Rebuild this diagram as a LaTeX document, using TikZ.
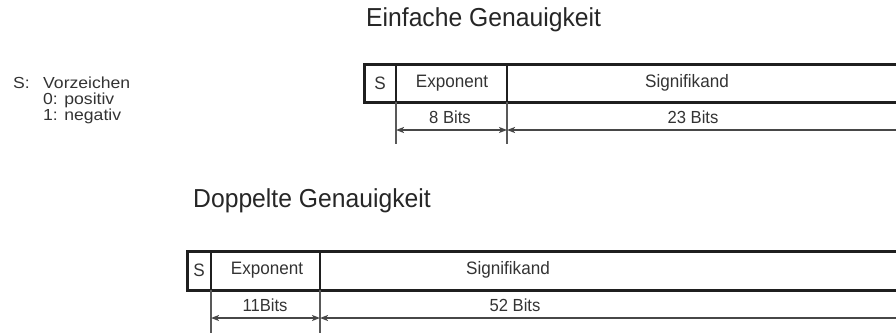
\documentclass[tikz,border=0pt]{standalone}
\usepackage{fontspec}
\setmainfont{Liberation Sans}[FakeStretch=0.95]
\newfontfamily\legendfont{Liberation Sans}[FakeStretch=1.1]
\usetikzlibrary{arrows.meta}
\begin{document}
\begin{tikzpicture}[x=1pt,y=-1pt,
  >={Stealth[length=8pt,width=6pt,inset=2pt]},
  frame/.style={line width=3pt,draw=black!88},
  divider/.style={line width=2.8pt,draw=black!88},
  extline/.style={line width=1.5pt,draw=black!65},
  dimline/.style={line width=1.5pt,draw=black!72},
  title/.style={anchor=base west,inner sep=0pt,font=\fontsize{26}{30}\selectfont,text=black!85},
  field/.style={inner sep=0pt,font=\fontsize{18}{22}\selectfont,text=black!80},
  bits/.style={inner sep=0pt,font=\fontsize{17.5}{22}\selectfont,text=black!80},
  legend/.style={anchor=base west,inner sep=0pt,font=\legendfont\fontsize{16}{17}\selectfont,text=black!80}]
\clip (0,0) rectangle (896,332);

% legend for the sign bit
\node[legend] (sl) at (13,88) {S:};
\node[legend] (sv) at (43,88) {Vorzeichen};
\node[legend] (s0) at (43,104.5) {0: positiv};
\node[legend] (s1) at (43,120.5) {1: negativ};

% ---- single precision ----
\node[title] (t1) at (366,27) {Einfache Genauigkeit};
\coordinate (a0) at (364,64);
\coordinate (a1) at (396,64);
\coordinate (a2) at (507,64);
\draw[frame] (a0) rectangle (905,102);
\draw[divider] (a1) -- (396,102);
\draw[divider] (a2) -- (507,102);
\node[field] (sS) at (380,83) {S};
\node[field] (sE) at (452,83) {Exponent};
\node[field] (sM) at (687,83) {Signifikand};
% extension lines below the fields
\coordinate (e1t) at (396,102); \coordinate (e1b) at (396,144);
\coordinate (e2t) at (507,102); \coordinate (e2b) at (507,144);
\draw[extline] (e1t) -- (e1b);
\draw[extline] (e2t) -- (e2b);
% dimension arrows
\coordinate (d1) at (396,130);
\coordinate (d2) at (507,130);
\coordinate (d3) at (905,130);
\draw[dimline,<->] (d1) -- (d2);
\draw[dimline,<-] (d2) -- (d3);
\node[bits] (sb1) at (450,117) {8 Bits};
\node[bits] (sb2) at (693,117) {23 Bits};

% ---- double precision ----
\node[title] (t2) at (193,207) {Doppelte Genauigkeit};
\coordinate (b0) at (187,251);
\coordinate (b1) at (211,251);
\coordinate (b2) at (320,251);
\draw[frame] (b0) rectangle (905,290);
\draw[divider] (b1) -- (211,290);
\draw[divider] (b2) -- (320,290);
\node[field] (dS) at (199,270) {S};
\node[field] (dE) at (267,270) {Exponent};
\node[field] (dM) at (508,270) {Signifikand};
\coordinate (f1t) at (211,290); \coordinate (f1b) at (211,340);
\coordinate (f2t) at (320,290); \coordinate (f2b) at (320,340);
\draw[extline] (f1t) -- (f1b);
\draw[extline] (f2t) -- (f2b);
\coordinate (g1) at (211,318);
\coordinate (g2) at (320,318);
\coordinate (g3) at (905,318);
\draw[dimline,<->] (g1) -- (g2);
\draw[dimline,<-] (g2) -- (g3);
\node[bits] (db1) at (265,305) {11Bits};
\node[bits] (db2) at (515,305) {52 Bits};
\end{tikzpicture}
\end{document}
